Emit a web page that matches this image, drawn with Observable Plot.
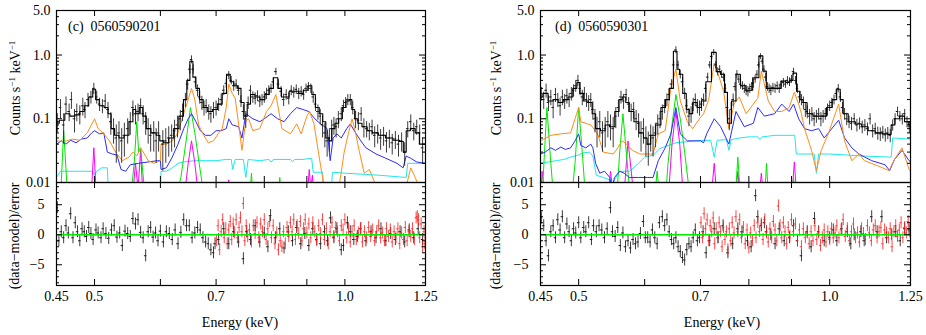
<!DOCTYPE html>
<html><head><meta charset="utf-8">
<script src="https://cdn.jsdelivr.net/npm/d3@7"></script>
<script src="https://cdn.jsdelivr.net/npm/@observablehq/plot@0.6"></script>
<style>
body{margin:0;background:#fff;font-family:"Liberation Serif","Times New Roman",Times,"Nimbus Roman","DejaVu Serif",serif;}
#wrap{position:relative;width:926px;height:335px;overflow:hidden;background:#fff}
#wrap svg, #wrap svg text{font-family:"Liberation Serif","Times New Roman",Times,"Nimbus Roman","DejaVu Serif",serif !important;}
.lab{position:absolute;font-size:14px;white-space:nowrap;color:#000;transform:translate(-50%,-50%) rotate(-90deg);}
.lab sup{font-size:9px;vertical-align:5px}
.txt{position:absolute;font-size:14px;white-space:pre;color:#000;transform:translate(0,-50%);}
.ctr{position:absolute;font-size:14px;white-space:nowrap;color:#000;transform:translate(-50%,-50%);}
</style></head><body><div id="wrap"></div>
<script>
// ---------- axis ticks / labels ----------
const xMajor = [0.5,0.6,0.7,0.8,0.9,1.0];
const xLabels = [0.45,0.5,0.7,1.0,1.25];
const yMajor = [0.01,0.1,1];
const yMinor = [0.02,0.03,0.04,0.05,0.06,0.07,0.08,0.09,0.2,0.3,0.4,0.5,0.6,0.7,0.8,0.9,2,3,4];
const yLabels = [0.01,0.1,1,5];
const rMajor = [-5,0,5];
const rMinor = [-8,-7,-6,-4,-3,-2,-1,1,2,3,4,6,7,8];
const titles = ["(c)  0560590201","(d)  0560590301"];

// ---------- panel (c) ----------
const cModel = [[0.45,0.085],[0.457,0.095],[0.464,0.12],[0.47,0.11],[0.477,0.115],[0.483,0.13],[0.489,0.16],[0.495,0.22],[0.5,0.29],[0.503,0.2],[0.51,0.16],[0.517,0.15],[0.521,0.12],[0.526,0.07],[0.531,0.055],[0.539,0.05],[0.546,0.055],[0.554,0.09],[0.558,0.14],[0.563,0.12],[0.569,0.15],[0.574,0.11],[0.58,0.07],[0.589,0.06],[0.597,0.055],[0.601,0.045],[0.61,0.042],[0.618,0.05],[0.627,0.07],[0.636,0.11],[0.643,0.2],[0.648,0.4],[0.654,0.8],[0.659,0.45],[0.665,0.3],[0.672,0.2],[0.679,0.15],[0.689,0.13],[0.698,0.14],[0.708,0.17],[0.716,0.25],[0.725,0.5],[0.731,0.38],[0.739,0.33],[0.747,0.3],[0.753,0.18],[0.76,0.11],[0.766,0.17],[0.774,0.24],[0.785,0.22],[0.796,0.2],[0.807,0.24],[0.815,0.3],[0.826,0.44],[0.835,0.3],[0.843,0.22],[0.852,0.22],[0.862,0.27],[0.875,0.27],[0.885,0.25],[0.897,0.28],[0.908,0.33],[0.917,0.24],[0.926,0.15],[0.937,0.12],[0.944,0.09],[0.953,0.05],[0.961,0.045],[0.968,0.07],[0.978,0.085],[0.988,0.1],[0.998,0.15],[1.008,0.19],[1.016,0.2],[1.023,0.14],[1.032,0.1],[1.041,0.085],[1.056,0.075],[1.071,0.065],[1.086,0.06],[1.108,0.055],[1.13,0.05],[1.155,0.046],[1.171,0.044],[1.18,0.03],[1.19,0.065],[1.207,0.07],[1.223,0.06],[1.235,0.04],[1.25,0.04]];
const cData = [[0.451,0.09,0.03],[0.455,0.15,0.05],[0.459,0.08,0.04],[0.462,0.17,0.05],[0.466,0.13,0.04],[0.469,0.2,0.06],[0.473,0.1,0.04],[0.476,0.13,0.04],[0.48,0.12,0.04],[0.484,0.16,0.05],[0.487,0.14,0.04],[0.491,0.2,0.05],[0.495,0.22,0.05],[0.499,0.3,0.06],[0.503,0.22,0.05],[0.507,0.17,0.04],[0.511,0.16,0.04],[0.515,0.19,0.05],[0.519,0.14,0.04],[0.523,0.09,0.035],[0.527,0.07,0.03],[0.531,0.05,0.03],[0.535,0.06,0.03],[0.539,0.045,0.025],[0.543,0.055,0.03],[0.548,0.07,0.03],[0.552,0.09,0.035],[0.556,0.15,0.04],[0.56,0.12,0.04],[0.564,0.13,0.04],[0.568,0.16,0.045],[0.572,0.12,0.04],[0.576,0.09,0.035],[0.58,0.07,0.03],[0.584,0.055,0.025],[0.589,0.06,0.03],[0.593,0.045,0.025],[0.597,0.06,0.03],[0.604,0.04,0.025],[0.609,0.045,0.025],[0.614,0.05,0.025],[0.619,0.055,0.025],[0.624,0.065,0.03],[0.629,0.08,0.03],[0.634,0.1,0.035],[0.638,0.13,0.04],[0.643,0.2,0.05],[0.647,0.35,0.07],[0.651,0.6,0.1],[0.654,0.85,0.12],[0.657,0.6,0.1],[0.661,0.38,0.07],[0.665,0.28,0.06],[0.669,0.22,0.05],[0.673,0.18,0.045],[0.677,0.15,0.04],[0.681,0.16,0.04],[0.686,0.13,0.035],[0.69,0.12,0.035],[0.695,0.14,0.04],[0.7,0.15,0.04],[0.705,0.17,0.04],[0.71,0.2,0.045],[0.715,0.28,0.05],[0.72,0.36,0.06],[0.725,0.48,0.07],[0.73,0.4,0.06],[0.735,0.33,0.06],[0.74,0.35,0.06],[0.745,0.28,0.05],[0.75,0.19,0.04],[0.755,0.13,0.035],[0.76,0.1,0.03],[0.765,0.18,0.04],[0.77,0.28,0.05],[0.775,0.22,0.045],[0.78,0.21,0.045],[0.785,0.23,0.045],[0.79,0.19,0.04],[0.795,0.2,0.04],[0.8,0.22,0.045],[0.805,0.25,0.05],[0.81,0.28,0.05],[0.815,0.3,0.05],[0.82,0.38,0.06],[0.826,0.55,0.07],[0.832,0.35,0.06],[0.838,0.27,0.05],[0.844,0.2,0.045],[0.85,0.24,0.045],[0.856,0.21,0.045],[0.862,0.28,0.05],[0.868,0.26,0.05],[0.874,0.29,0.05],[0.88,0.25,0.05],[0.886,0.27,0.05],[0.892,0.24,0.045],[0.898,0.3,0.05],[0.904,0.32,0.05],[0.91,0.3,0.05],[0.916,0.22,0.045],[0.922,0.17,0.04],[0.928,0.13,0.035],[0.934,0.11,0.03],[0.94,0.08,0.03],[0.946,0.06,0.025],[0.952,0.045,0.02],[0.958,0.05,0.02],[0.964,0.07,0.025],[0.97,0.08,0.025],[0.976,0.075,0.025],[0.982,0.1,0.03],[0.99,0.12,0.03],[0.996,0.16,0.035],[1.002,0.18,0.035],[1.008,0.2,0.04],[1.015,0.2,0.04],[1.022,0.15,0.035],[1.03,0.1,0.03],[1.038,0.095,0.03],[1.046,0.12,0.03],[1.054,0.075,0.025],[1.062,0.07,0.02],[1.07,0.065,0.02],[1.078,0.075,0.02],[1.086,0.055,0.02],[1.095,0.06,0.02],[1.104,0.05,0.018],[1.113,0.055,0.018],[1.122,0.045,0.016],[1.131,0.05,0.016],[1.14,0.042,0.015],[1.15,0.048,0.015],[1.16,0.04,0.015],[1.17,0.045,0.015],[1.18,0.03,0.012],[1.19,0.07,0.02],[1.2,0.09,0.025],[1.21,0.065,0.02],[1.22,0.075,0.02],[1.23,0.06,0.02],[1.24,0.035,0.015]];
const cOrange = [[0.45,0.045],[0.46,0.044],[0.47,0.048],[0.48,0.046],[0.49,0.06],[0.5,0.1],[0.505,0.07],[0.513,0.058],[0.521,0.045],[0.53,0.03],[0.54,0.022],[0.55,0.025],[0.556,0.03],[0.562,0.026],[0.568,0.035],[0.574,0.028],[0.58,0.022],[0.59,0.02],[0.6,0.022],[0.601,0.04],[0.61,0.04],[0.62,0.045],[0.63,0.06],[0.64,0.12],[0.648,0.2],[0.654,0.3],[0.66,0.2],[0.667,0.08],[0.675,0.058],[0.685,0.042],[0.695,0.045],[0.705,0.06],[0.712,0.07],[0.72,0.15],[0.725,0.35],[0.732,0.25],[0.738,0.21],[0.745,0.083],[0.752,0.032],[0.76,0.093],[0.766,0.1],[0.775,0.065],[0.79,0.07],[0.805,0.13],[0.815,0.16],[0.826,0.24],[0.84,0.07],[0.86,0.058],[0.875,0.083],[0.886,0.058],[0.9,0.11],[0.907,0.13],[0.918,0.083],[0.93,0.028],[0.94,0.012],[0.945,0.006],[0.98,0.006],[0.998,0.03],[1.01,0.06],[1.02,0.1],[1.03,0.06],[1.04,0.032],[1.055,0.014],[1.07,0.016],[1.086,0.01],[1.1,0.007],[1.18,0.007],[1.2,0.017],[1.215,0.012],[1.235,0.007],[1.25,0.006]];
const cBlue = [[0.45,0.04],[0.456,0.045],[0.462,0.04],[0.468,0.046],[0.475,0.042],[0.482,0.048],[0.49,0.05],[0.496,0.06],[0.5,0.065],[0.507,0.058],[0.513,0.06],[0.518,0.03],[0.525,0.028],[0.532,0.027],[0.538,0.016],[0.545,0.015],[0.552,0.019],[0.565,0.02],[0.58,0.021],[0.595,0.022],[0.6,0.022],[0.601,0.016],[0.61,0.017],[0.62,0.025],[0.63,0.04],[0.64,0.07],[0.648,0.1],[0.654,0.12],[0.662,0.09],[0.67,0.065],[0.68,0.055],[0.69,0.055],[0.7,0.065],[0.71,0.065],[0.72,0.07],[0.725,0.1],[0.732,0.08],[0.745,0.075],[0.752,0.05],[0.76,0.12],[0.775,0.1],[0.79,0.09],[0.8,0.1],[0.815,0.12],[0.83,0.1],[0.845,0.09],[0.86,0.12],[0.875,0.15],[0.89,0.14],[0.905,0.13],[0.92,0.1],[0.935,0.083],[0.952,0.07],[0.96,0.022],[0.968,0.05],[0.978,0.058],[0.99,0.05],[1.005,0.07],[1.015,0.083],[1.03,0.06],[1.045,0.045],[1.06,0.035],[1.09,0.028],[1.12,0.024],[1.155,0.02],[1.175,0.017],[1.185,0.026],[1.2,0.024],[1.22,0.021],[1.25,0.02]];
const cCyan = [[0.45,0.012],[0.455,0.015],[0.47,0.015],[0.485,0.015],[0.497,0.015],[0.5,0.013],[0.503,0.015],[0.51,0.017],[0.518,0.017],[0.52,0.006],[0.6,0.006],[0.601,0.015],[0.61,0.015],[0.62,0.017],[0.63,0.02],[0.64,0.021],[0.66,0.022],[0.68,0.022],[0.7,0.022],[0.72,0.023],[0.73,0.023],[0.733,0.016],[0.738,0.023],[0.755,0.023],[0.76,0.012],[0.765,0.023],[0.79,0.022],[0.81,0.023],[0.815,0.021],[0.82,0.023],[0.86,0.023],[0.865,0.021],[0.87,0.023],[0.89,0.023],[0.912,0.024],[0.916,0.0145],[0.94,0.0145],[0.945,0.006],[0.962,0.006],[0.966,0.0145],[1.0,0.014],[1.1,0.013],[1.185,0.012],[1.19,0.02],[1.25,0.02]];
const cGreen = [[0.45,0.005],[0.456,0.01],[0.459,0.065],[0.463,0.01],[0.467,0.005],[0.552,0.005],[0.558,0.02],[0.562,0.09],[0.565,0.03],[0.568,0.035],[0.573,0.01],[0.578,0.005],[0.625,0.005],[0.635,0.012],[0.645,0.05],[0.652,0.15],[0.66,0.06],[0.668,0.02],[0.675,0.008],[0.68,0.005],[0.768,0.005],[0.772,0.014],[0.776,0.005],[0.83,0.005],[0.835,0.012],[0.84,0.005],[1.25,0.005]];
const cMagenta = [[0.45,0.005],[0.495,0.005],[0.499,0.035],[0.503,0.005],[0.555,0.005],[0.56,0.02],[0.564,0.008],[0.568,0.032],[0.572,0.005],[0.64,0.005],[0.648,0.02],[0.654,0.045],[0.66,0.02],[0.668,0.005],[0.72,0.005],[0.725,0.011],[0.73,0.005],[0.9,0.005],[0.906,0.016],[0.91,0.008],[0.914,0.013],[0.918,0.005],[1.25,0.005]];
const cResBlack = [[0.451,4.5],[0.453,-1],[0.456,0.5],[0.459,-0.5],[0.462,1.5],[0.465,0.3],[0.468,3.5],[0.471,-0.5],[0.474,2],[0.477,0.5],[0.48,-1],[0.483,1],[0.486,0.5],[0.489,-0.3],[0.492,1.2],[0.495,0.2],[0.498,-0.8],[0.502,0.8],[0.505,0.3],[0.509,-0.5],[0.512,1],[0.516,0.2],[0.52,-0.6],[0.524,0.8],[0.528,1.5],[0.532,-0.4],[0.536,0.3],[0.54,-1.8],[0.544,0.6],[0.548,0.2],[0.552,-0.3],[0.556,2.7],[0.56,1.8],[0.564,2.5],[0.568,0.4],[0.572,-0.5],[0.576,-3.5],[0.58,0.5],[0.584,1.2],[0.588,-0.4],[0.592,0.3],[0.596,-1],[0.6,0.6],[0.605,-1.2],[0.61,0.5],[0.615,0.2],[0.62,-0.8],[0.625,0.8],[0.63,-1.5],[0.635,0.4],[0.64,2.5],[0.645,1.5],[0.65,1.5],[0.655,-0.5],[0.66,0.3],[0.665,1.2],[0.67,0.8],[0.675,-0.5],[0.68,-1.2],[0.685,-1.5],[0.69,-2.5],[0.695,-3],[0.698,-1.5],[0.705,-0.8],[0.715,1],[0.725,-1.5],[0.735,0.5],[0.745,-1.2],[0.755,-4],[0.762,0.5],[0.77,-0.8],[0.78,1.5],[0.79,-1.2],[0.8,0.3],[0.808,-2],[0.814,3.2],[0.825,-0.5],[0.835,1],[0.845,-2.2],[0.855,0.5],[0.865,-1],[0.875,1.2],[0.885,-1.5],[0.895,0.2],[0.905,-1.8],[0.915,1],[0.925,-0.8],[0.935,-1.5],[0.945,0.5],[0.953,-1],[0.961,2.8],[0.97,-0.5],[0.978,1],[0.99,-2.5],[0.996,-1.8],[1.007,2],[1.015,0.5],[1.025,-0.8],[1.035,-0.3],[1.045,1],[1.06,-1],[1.075,0.5],[1.09,-0.5],[1.105,1],[1.12,-1],[1.135,0.2],[1.15,-0.8],[1.165,0.5],[1.18,-1.2],[1.195,0.8],[1.21,-0.5],[1.225,1],[1.24,-0.8]];
const cResRed = [[0.701,-1],[0.704,1.5],[0.707,-2.5],[0.71,0.5],[0.713,2.5],[0.716,-0.5],[0.719,1],[0.722,-1.5],[0.725,0.8],[0.728,2.2],[0.731,-0.8],[0.734,1.8],[0.737,0.3],[0.74,2.5],[0.743,-0.5],[0.746,1.2],[0.749,2.8],[0.752,0.5],[0.755,5.2],[0.758,-1],[0.761,1.5],[0.764,-0.3],[0.768,0.8],[0.772,-1.2],[0.776,1.5],[0.78,0.2],[0.784,2],[0.788,-0.5],[0.792,1.8],[0.796,0.5],[0.8,2.5],[0.804,-0.8],[0.808,1],[0.812,2.2],[0.816,-0.5],[0.82,1.5],[0.824,-1.5],[0.828,0.3],[0.832,-2.5],[0.836,-1],[0.84,-2],[0.844,0.5],[0.848,-1.5],[0.852,1.2],[0.856,-0.3],[0.86,2],[0.864,0.5],[0.868,2.5],[0.872,-0.8],[0.876,1.5],[0.88,0.2],[0.884,2.2],[0.888,-1],[0.892,1],[0.896,2.5],[0.9,0.3],[0.905,1.8],[0.91,-0.5],[0.915,2],[0.92,0.5],[0.925,-1],[0.93,1.5],[0.935,0.2],[0.94,2.5],[0.945,-0.8],[0.95,1],[0.955,-1.5],[0.96,0.5],[0.965,2],[0.97,-0.3],[0.975,1.2],[0.98,0.5],[0.985,-1],[0.99,1.5],[0.995,0.8],[1.0,2.5],[1.005,-0.5],[1.01,1],[1.015,-1.2],[1.02,0.5],[1.026,1.5],[1.032,-0.8],[1.038,0.3],[1.044,1],[1.05,-1.2],[1.056,0.5],[1.062,-0.5],[1.068,1.2],[1.074,-0.3],[1.08,0.8],[1.086,-1],[1.092,0.5],[1.098,1.5],[1.104,-0.5],[1.11,0.3],[1.116,-1],[1.122,1],[1.128,-0.3],[1.134,0.8],[1.14,-1.2],[1.146,0.5],[1.152,-0.5],[1.158,1],[1.164,-1.5],[1.17,0.3],[1.176,-0.8],[1.182,1.2],[1.188,-1],[1.194,0.5],[1.2,-0.3],[1.206,1],[1.212,-0.8],[1.218,2.8],[1.222,3],[1.226,2.5],[1.23,-0.5],[1.235,1.8],[1.24,-2],[1.245,0.5],[1.248,-1.5]];

// ---------- panel (d) ----------
const dModel = [[0.45,0.22],[0.456,0.25],[0.463,0.19],[0.469,0.2],[0.476,0.18],[0.482,0.2],[0.489,0.22],[0.495,0.3],[0.5,0.37],[0.503,0.25],[0.51,0.19],[0.517,0.18],[0.521,0.12],[0.527,0.07],[0.535,0.065],[0.541,0.08],[0.548,0.075],[0.557,0.13],[0.561,0.2],[0.567,0.22],[0.572,0.18],[0.578,0.13],[0.587,0.09],[0.594,0.06],[0.602,0.05],[0.606,0.04],[0.614,0.055],[0.623,0.08],[0.632,0.15],[0.639,0.2],[0.645,0.3],[0.654,1.15],[0.658,0.6],[0.663,0.5],[0.67,0.25],[0.676,0.14],[0.681,0.12],[0.689,0.18],[0.698,0.15],[0.705,0.19],[0.716,0.38],[0.727,1.1],[0.735,0.55],[0.745,0.5],[0.751,0.26],[0.757,0.085],[0.768,0.19],[0.776,0.5],[0.787,0.33],[0.8,0.28],[0.817,0.44],[0.828,0.97],[0.835,0.56],[0.844,0.3],[0.856,0.3],[0.868,0.3],[0.88,0.39],[0.892,0.37],[0.9,0.4],[0.907,0.52],[0.918,0.27],[0.925,0.2],[0.933,0.18],[0.946,0.12],[0.964,0.11],[0.983,0.11],[1.0,0.15],[1.014,0.2],[1.025,0.29],[1.034,0.2],[1.042,0.12],[1.063,0.09],[1.084,0.083],[1.101,0.075],[1.123,0.065],[1.145,0.06],[1.167,0.058],[1.18,0.057],[1.19,0.08],[1.204,0.1],[1.221,0.11],[1.238,0.09],[1.25,0.08]];
const dData = [[0.451,0.25,0.06],[0.454,0.2,0.06],[0.457,0.28,0.07],[0.46,0.18,0.05],[0.463,0.22,0.06],[0.466,0.15,0.05],[0.469,0.24,0.06],[0.472,0.2,0.05],[0.475,0.16,0.05],[0.478,0.22,0.06],[0.481,0.19,0.05],[0.484,0.23,0.06],[0.487,0.2,0.05],[0.49,0.25,0.06],[0.493,0.28,0.06],[0.496,0.33,0.07],[0.499,0.4,0.08],[0.502,0.3,0.07],[0.505,0.22,0.06],[0.508,0.25,0.06],[0.511,0.2,0.05],[0.514,0.18,0.05],[0.517,0.2,0.05],[0.52,0.14,0.045],[0.523,0.1,0.04],[0.526,0.07,0.035],[0.53,0.09,0.04],[0.534,0.06,0.03],[0.538,0.07,0.035],[0.542,0.09,0.04],[0.546,0.08,0.035],[0.55,0.07,0.035],[0.554,0.11,0.04],[0.558,0.15,0.045],[0.562,0.22,0.05],[0.566,0.19,0.05],[0.57,0.24,0.05],[0.574,0.17,0.045],[0.578,0.13,0.04],[0.582,0.14,0.04],[0.586,0.1,0.035],[0.59,0.085,0.035],[0.594,0.06,0.03],[0.598,0.07,0.03],[0.602,0.05,0.025],[0.606,0.04,0.022],[0.61,0.055,0.025],[0.614,0.05,0.025],[0.618,0.06,0.025],[0.622,0.085,0.03],[0.626,0.1,0.03],[0.63,0.13,0.035],[0.634,0.16,0.04],[0.638,0.2,0.045],[0.642,0.24,0.05],[0.646,0.35,0.06],[0.65,0.7,0.1],[0.654,1.2,0.15],[0.658,0.7,0.1],[0.662,0.5,0.08],[0.666,0.38,0.06],[0.67,0.25,0.05],[0.674,0.16,0.04],[0.678,0.11,0.035],[0.682,0.12,0.035],[0.686,0.17,0.04],[0.69,0.2,0.045],[0.694,0.16,0.04],[0.698,0.15,0.04],[0.702,0.17,0.04],[0.706,0.2,0.045],[0.71,0.3,0.05],[0.714,0.45,0.07],[0.718,0.7,0.09],[0.722,0.95,0.11],[0.726,1.1,0.12],[0.73,0.7,0.09],[0.734,0.55,0.08],[0.738,0.6,0.08],[0.742,0.5,0.07],[0.746,0.45,0.07],[0.75,0.3,0.05],[0.754,0.15,0.04],[0.758,0.1,0.035],[0.762,0.14,0.04],[0.766,0.2,0.045],[0.77,0.32,0.05],[0.774,0.5,0.07],[0.778,0.42,0.06],[0.782,0.35,0.06],[0.786,0.33,0.05],[0.79,0.3,0.05],[0.794,0.28,0.05],[0.798,0.27,0.05],[0.802,0.3,0.05],[0.806,0.32,0.05],[0.81,0.36,0.06],[0.814,0.42,0.06],[0.818,0.5,0.07],[0.822,0.7,0.08],[0.826,0.95,0.1],[0.83,0.8,0.09],[0.834,0.6,0.08],[0.838,0.45,0.07],[0.842,0.32,0.05],[0.846,0.3,0.05],[0.85,0.28,0.05],[0.855,0.31,0.05],[0.86,0.3,0.05],[0.865,0.33,0.05],[0.87,0.3,0.05],[0.875,0.34,0.05],[0.88,0.37,0.06],[0.885,0.35,0.05],[0.89,0.4,0.06],[0.895,0.38,0.06],[0.9,0.42,0.06],[0.905,0.55,0.07],[0.91,0.4,0.06],[0.915,0.3,0.05],[0.92,0.22,0.045],[0.925,0.2,0.04],[0.93,0.18,0.04],[0.935,0.14,0.035],[0.94,0.13,0.03],[0.946,0.11,0.03],[0.952,0.12,0.03],[0.958,0.1,0.025],[0.964,0.11,0.025],[0.97,0.12,0.025],[0.976,0.1,0.025],[0.982,0.11,0.025],[0.988,0.12,0.025],[0.994,0.14,0.03],[1.0,0.16,0.03],[1.006,0.18,0.03],[1.012,0.2,0.035],[1.018,0.25,0.04],[1.024,0.3,0.045],[1.03,0.22,0.04],[1.036,0.15,0.03],[1.042,0.12,0.025],[1.048,0.1,0.022],[1.055,0.09,0.02],[1.062,0.085,0.02],[1.07,0.1,0.02],[1.078,0.08,0.018],[1.086,0.085,0.018],[1.094,0.075,0.017],[1.102,0.08,0.017],[1.11,0.07,0.016],[1.118,0.1,0.02],[1.126,0.065,0.015],[1.134,0.07,0.015],[1.142,0.06,0.014],[1.15,0.058,0.014],[1.158,0.062,0.014],[1.166,0.056,0.013],[1.174,0.06,0.013],[1.182,0.055,0.013],[1.19,0.08,0.016],[1.198,0.1,0.02],[1.206,0.13,0.022],[1.214,0.11,0.02],[1.222,0.1,0.02],[1.23,0.12,0.02],[1.238,0.09,0.018],[1.246,0.075,0.016]];
const dOrange = [[0.45,0.045],[0.463,0.055],[0.476,0.058],[0.489,0.06],[0.495,0.1],[0.5,0.15],[0.503,0.09],[0.517,0.08],[0.527,0.058],[0.535,0.03],[0.55,0.028],[0.557,0.035],[0.564,0.045],[0.571,0.04],[0.58,0.032],[0.592,0.028],[0.614,0.028],[0.623,0.058],[0.635,0.065],[0.645,0.3],[0.654,0.6],[0.662,0.19],[0.675,0.09],[0.685,0.07],[0.698,0.1],[0.706,0.12],[0.716,0.2],[0.727,0.75],[0.737,0.45],[0.746,0.27],[0.757,0.07],[0.768,0.17],[0.779,0.22],[0.794,0.12],[0.81,0.17],[0.82,0.21],[0.828,0.56],[0.844,0.19],[0.859,0.13],[0.876,0.13],[0.894,0.15],[0.907,0.26],[0.918,0.17],[0.925,0.12],[0.933,0.07],[0.951,0.032],[0.964,0.0154],[0.977,0.032],[0.996,0.058],[1.025,0.17],[1.042,0.045],[1.063,0.022],[1.084,0.028],[1.101,0.022],[1.145,0.018],[1.178,0.0154],[1.196,0.023],[1.221,0.035],[1.245,0.016],[1.25,0.015]];
const dBlue = [[0.45,0.028],[0.456,0.03],[0.463,0.035],[0.469,0.032],[0.476,0.036],[0.482,0.033],[0.489,0.035],[0.495,0.045],[0.5,0.058],[0.503,0.038],[0.51,0.035],[0.517,0.04],[0.52,0.035],[0.524,0.02],[0.53,0.014],[0.537,0.015],[0.545,0.012],[0.548,0.008],[0.552,0.012],[0.56,0.015],[0.567,0.014],[0.575,0.012],[0.59,0.012],[0.605,0.012],[0.614,0.012],[0.623,0.022],[0.635,0.035],[0.645,0.058],[0.654,0.15],[0.662,0.058],[0.675,0.045],[0.69,0.045],[0.7,0.045],[0.706,0.042],[0.712,0.058],[0.727,0.1],[0.74,0.075],[0.757,0.04],[0.772,0.13],[0.79,0.075],[0.81,0.085],[0.82,0.15],[0.835,0.11],[0.859,0.12],[0.876,0.17],[0.894,0.13],[0.905,0.17],[0.918,0.1],[0.933,0.07],[0.951,0.065],[0.97,0.07],[0.985,0.05],[1.025,0.095],[1.042,0.05],[1.063,0.035],[1.084,0.028],[1.123,0.022],[1.165,0.019],[1.18,0.0154],[1.196,0.023],[1.221,0.032],[1.245,0.022],[1.25,0.021]];
const dCyan = [[0.45,0.02],[0.46,0.021],[0.47,0.022],[0.48,0.023],[0.489,0.025],[0.5,0.027],[0.505,0.029],[0.515,0.03],[0.52,0.026],[0.525,0.013],[0.535,0.012],[0.545,0.011],[0.548,0.008],[0.552,0.011],[0.56,0.015],[0.575,0.015],[0.59,0.02],[0.6,0.025],[0.615,0.027],[0.625,0.034],[0.654,0.042],[0.69,0.045],[0.72,0.046],[0.727,0.025],[0.733,0.046],[0.752,0.047],[0.757,0.032],[0.762,0.047],[0.78,0.05],[0.8,0.052],[0.82,0.052],[0.825,0.047],[0.83,0.052],[0.86,0.055],[0.908,0.055],[0.912,0.028],[0.958,0.028],[0.964,0.014],[0.97,0.028],[1.0,0.028],[1.1,0.026],[1.185,0.025],[1.19,0.05],[1.25,0.048]];
const dGreen = [[0.45,0.005],[0.453,0.01],[0.458,0.15],[0.463,0.02],[0.467,0.005],[0.49,0.005],[0.495,0.02],[0.5,0.15],[0.505,0.03],[0.51,0.005],[0.555,0.005],[0.56,0.03],[0.565,0.12],[0.571,0.025],[0.577,0.005],[0.616,0.005],[0.621,0.015],[0.626,0.005],[0.635,0.005],[0.64,0.02],[0.647,0.08],[0.654,0.24],[0.662,0.1],[0.67,0.03],[0.678,0.008],[0.685,0.005],[0.77,0.005],[0.776,0.025],[0.782,0.005],[0.835,0.005],[0.84,0.02],[0.845,0.005],[0.9,0.005],[0.905,0.012],[0.91,0.005],[1.25,0.005]];
const dMagenta = [[0.45,0.005],[0.452,0.015],[0.456,0.005],[0.541,0.005],[0.546,0.015],[0.551,0.005],[0.566,0.005],[0.573,0.045],[0.58,0.01],[0.585,0.005],[0.64,0.005],[0.647,0.04],[0.654,0.13],[0.661,0.04],[0.668,0.005],[0.72,0.005],[0.727,0.02],[0.733,0.005],[0.77,0.005],[0.776,0.015],[0.782,0.005],[0.822,0.005],[0.828,0.014],[0.834,0.005],[0.9,0.005],[0.907,0.021],[0.914,0.005],[1.25,0.005]];
const dResBlack = [[0.451,2.8],[0.454,1.5],[0.457,-1],[0.46,-3.5],[0.463,0.5],[0.466,1.5],[0.469,-0.5],[0.472,2.5],[0.475,0.8],[0.478,3],[0.481,-0.5],[0.484,1.8],[0.487,0.5],[0.49,-1],[0.493,1],[0.496,0.3],[0.5,2],[0.503,-0.5],[0.507,1.2],[0.51,0.5],[0.514,2],[0.518,-0.8],[0.521,1.5],[0.525,0.5],[0.529,1.5],[0.533,0.8],[0.537,-0.5],[0.541,1],[0.546,4.5],[0.549,0.5],[0.553,-0.3],[0.557,1.2],[0.561,-1.8],[0.565,0.3],[0.569,-2],[0.573,-1],[0.577,-2.2],[0.581,-0.8],[0.585,-1.5],[0.589,-1.2],[0.593,0.2],[0.598,2.2],[0.601,-0.5],[0.605,-0.5],[0.609,-1.2],[0.613,0.8],[0.617,-0.5],[0.621,-1.5],[0.625,2],[0.63,3],[0.634,1.5],[0.638,2.5],[0.642,0.5],[0.646,-0.8],[0.65,-1.5],[0.654,-0.5],[0.658,-2],[0.662,-2.8],[0.666,-3.8],[0.67,-4.2],[0.674,-2.5],[0.678,-1.5],[0.682,-2],[0.686,-0.5],[0.69,0.8],[0.694,-1],[0.698,-0.5],[0.705,0.5],[0.711,-3],[0.718,-1],[0.727,1],[0.735,-0.5],[0.745,1.5],[0.755,-3],[0.765,-1.5],[0.776,1],[0.785,0.5],[0.797,-1],[0.805,-2],[0.815,6.5],[0.82,3],[0.828,1.5],[0.835,2],[0.84,0.5],[0.85,0],[0.86,-1.5],[0.87,1],[0.882,-1],[0.895,-0.5],[0.905,1.5],[0.915,-1],[0.925,-3.5],[0.94,0.5],[0.95,-2],[0.959,2.7],[0.97,0.5],[0.985,-1],[1.0,-0.5],[1.01,0.8],[1.02,-1],[1.034,1],[1.05,0.5],[1.06,-1.5],[1.07,0],[1.09,0.5],[1.1,-1],[1.123,3],[1.14,0.5],[1.155,3],[1.17,-0.5],[1.187,0],[1.2,0.5],[1.215,-1],[1.23,1],[1.245,0.8]];
const dResRed = [[0.701,2],[0.704,-0.5],[0.707,3.5],[0.71,1],[0.713,2.5],[0.716,-1],[0.719,1.5],[0.722,0.5],[0.725,2.8],[0.728,-1.5],[0.731,1],[0.734,-0.5],[0.737,2],[0.74,0.5],[0.743,-2],[0.746,1.2],[0.749,-0.8],[0.752,0.5],[0.755,-2.5],[0.758,1],[0.761,-1],[0.764,2],[0.768,0.3],[0.772,3],[0.776,0.5],[0.78,2.5],[0.784,-0.5],[0.788,1.2],[0.792,-1.5],[0.796,0.8],[0.8,-2.2],[0.804,0.3],[0.808,-1],[0.812,1.5],[0.816,-0.5],[0.82,2],[0.824,0.5],[0.828,1.8],[0.832,-0.8],[0.836,2.5],[0.84,0.3],[0.844,-1.2],[0.848,1],[0.852,-0.5],[0.856,2.2],[0.86,0.8],[0.864,-1],[0.868,4.8],[0.872,1.5],[0.876,-0.5],[0.88,2],[0.884,0.5],[0.888,-1.5],[0.892,1.2],[0.896,-0.3],[0.9,2.5],[0.905,0.5],[0.91,1.8],[0.915,-1],[0.92,0.8],[0.925,-2],[0.93,1],[0.935,-0.5],[0.94,0.3],[0.945,-1.5],[0.95,0.5],[0.955,-1],[0.96,1.5],[0.965,-0.8],[0.97,0.3],[0.975,-1.8],[0.98,-0.5],[0.985,0.8],[0.99,-1.2],[0.995,0.5],[1.0,-0.8],[1.005,1],[1.01,-0.5],[1.015,0.3],[1.02,1.5],[1.026,-0.5],[1.032,0.8],[1.038,2.5],[1.044,-0.3],[1.05,1],[1.056,-1],[1.062,0.5],[1.068,1.8],[1.074,-0.5],[1.08,0.3],[1.086,-1.2],[1.092,1],[1.098,0.2],[1.104,-0.8],[1.11,1.5],[1.116,0.3],[1.122,-1],[1.128,0.8],[1.134,1.5],[1.14,-0.5],[1.146,0.5],[1.152,1.2],[1.158,-1.5],[1.164,0.8],[1.17,0.3],[1.176,-0.5],[1.182,1],[1.188,-2],[1.194,0.5],[1.2,1.5],[1.206,-0.3],[1.212,0.8],[1.218,2],[1.224,-0.5],[1.23,1.2],[1.236,0.3],[1.242,2.2],[1.248,0.5]];

// ---------- colours ----------
const C = {orange:"#ff8c1a", blue:"#2a2aff", cyan:"#1ee8ee", green:"#00e600", magenta:"#ff00ff", data:"#1a1a1a", red:"#ff1a1a", zero:"#00ee00"};

const wrap = document.getElementById("wrap");
const SW = 463;
const FONT = "'Liberation Serif', 'Times New Roman', Times, 'Nimbus Roman', 'DejaVu Serif', serif";
const styleBase = {background:"transparent", fontFamily: FONT, fontSize:"14px", color:"black", overflow:"visible"};
const fmtX = d => d === 1 ? "1.0" : String(d);
const fmtY = d => d === 5 ? "5.0" : d === 1 ? "1.0" : String(d);
const fmtR = d => d < 0 ? "\u2212" + (-d) : String(d);

function ticksBox(iw, ih, xs, ys, ymin, maj, mi) {
  return [
    Plot.ruleX(xs, {x: d => d, insetBottom: ih - maj, stroke: "black"}),
    Plot.ruleX(xs, {x: d => d, insetTop: ih - maj, stroke: "black"}),
    Plot.ruleY(ys, {y: d => d, insetRight: iw - maj, stroke: "black"}),
    Plot.ruleY(ys, {y: d => d, insetLeft: iw - maj, stroke: "black"}),
    Plot.ruleY(ymin, {y: d => d, insetRight: iw - mi, stroke: "black"}),
    Plot.ruleY(ymin, {y: d => d, insetLeft: iw - mi, stroke: "black"})
  ];
}

function side(ox, mL, mR, model, data, comps, resB, resR) {
  const iw = SW - mL - mR;
  const ihTop = 183 - 10 - 1;
  const top = Plot.plot({
    width: SW, height: 183, marginLeft: mL, marginRight: mR, marginTop: 10, marginBottom: 1,
    style: styleBase,
    x: {type: "log", domain: [0.45, 1.25], axis: null},
    y: {type: "log", domain: [0.01, 5], axis: null},
    marks: [
      ...comps.map(([arr, col]) => Plot.line(arr, {x: d => d[0], y: d => d[1], stroke: col, strokeWidth: 1, clip: true})),
      Plot.ruleX(data, {x: d => d[0], y1: d => Math.max(d[1] - d[2], 0.003), y2: d => d[1] + d[2], stroke: C.data, strokeWidth: 1, strokeOpacity: 0.85, clip: true}),
      Plot.ruleY(data, {y: d => d[1], x1: d => d[0] * 0.9965, x2: d => d[0] * 1.0035, stroke: C.data, strokeWidth: 1, clip: true}),
      Plot.line(model, {x: d => d[0], y: d => d[1], curve: "step", stroke: "black", strokeWidth: 1.1, clip: true}),
      ...ticksBox(iw, ihTop, xMajor, yMajor, yMinor, 6, 3),
      Plot.text(yLabels, {y: d => d, text: fmtY, frameAnchor: "left", textAnchor: "end", dx: -6, fontSize: 14, fill: "black"}),
      Plot.frame({stroke: "black", strokeWidth: 1.2})
    ]
  });
  top.style.position = "absolute"; top.style.left = ox + "px"; top.style.top = "0px";
  wrap.appendChild(top);

  const ihBot = 103;
  const bot = Plot.plot({
    width: SW, height: 154, marginLeft: mL, marginRight: mR, marginTop: 1, marginBottom: 50,
    style: styleBase,
    x: {type: "log", domain: [0.45, 1.25]},
    y: {domain: [-8.45, 8.7]},
    marks: [
      Plot.ruleX(resB, {x: d => d[0], y1: d => d[1] - 1, y2: d => d[1] + 1, stroke: C.data, strokeWidth: 1, strokeOpacity: 0.85, clip: true}),
      Plot.ruleY(resB, {y: d => d[1], x1: d => d[0] * 0.9965, x2: d => d[0] * 1.0035, stroke: C.data, strokeWidth: 1, clip: true}),
      Plot.ruleX(resR, {x: d => d[0], y1: d => d[1] - 1, y2: d => d[1] + 1, stroke: C.red, strokeWidth: 1, strokeOpacity: 0.8, clip: true}),
      Plot.ruleY(resR, {y: d => d[1], x1: d => d[0] * 0.997, x2: d => d[0] * 1.003, stroke: C.red, strokeWidth: 1, strokeOpacity: 0.8, clip: true}),
      Plot.ruleY([0], {stroke: C.zero, strokeWidth: 1.6}),
      ...ticksBox(iw, ihBot, xMajor, rMajor, rMinor, 6, 3),
      Plot.axisY({ticks: rMajor, tickSize: 0, tickPadding: 12, tickFormat: fmtR, label: null, fontSize: 14}),
      Plot.axisX({ticks: xLabels, tickSize: 0, tickPadding: 6, tickFormat: fmtX, label: null, fontSize: 14}),
      Plot.frame({stroke: "black", strokeWidth: 1.2})
    ]
  });
  bot.style.position = "absolute"; bot.style.left = ox + "px"; bot.style.top = "181px";
  wrap.appendChild(bot);
}

side(0, 56, 38, cModel, cData,
  [[cCyan, C.cyan], [cMagenta, C.magenta], [cGreen, C.green], [cBlue, C.blue], [cOrange, C.orange]],
  cResBlack, cResRed);
side(463, 77, 16, dModel, dData,
  [[dCyan, C.cyan], [dMagenta, C.magenta], [dGreen, C.green], [dBlue, C.blue], [dOrange, C.orange]],
  dResBlack, dResRed);

function addHTML(cls, x, y, html) {
  const el = document.createElement("div");
  el.className = cls; el.style.left = x + "px"; el.style.top = y + "px"; el.innerHTML = html;
  wrap.appendChild(el);
}
const yLab = "Counts s<sup>\u22121</sup> keV<sup>\u22121</sup>";
const rLab = "(data\u2212model)/error";
addHTML("lab", 15, 88, yLab);
addHTML("lab", 15, 236, rLab);
addHTML("lab", 496, 88, yLab);
addHTML("lab", 496, 236, rLab);
addHTML("ctr", 240, 323, "Energy (keV)");
addHTML("ctr", 722, 323, "Energy (keV)");
addHTML("txt", 68, 27, titles[0]);
addHTML("txt", 555, 27, titles[1]);
</script>
</body></html>
